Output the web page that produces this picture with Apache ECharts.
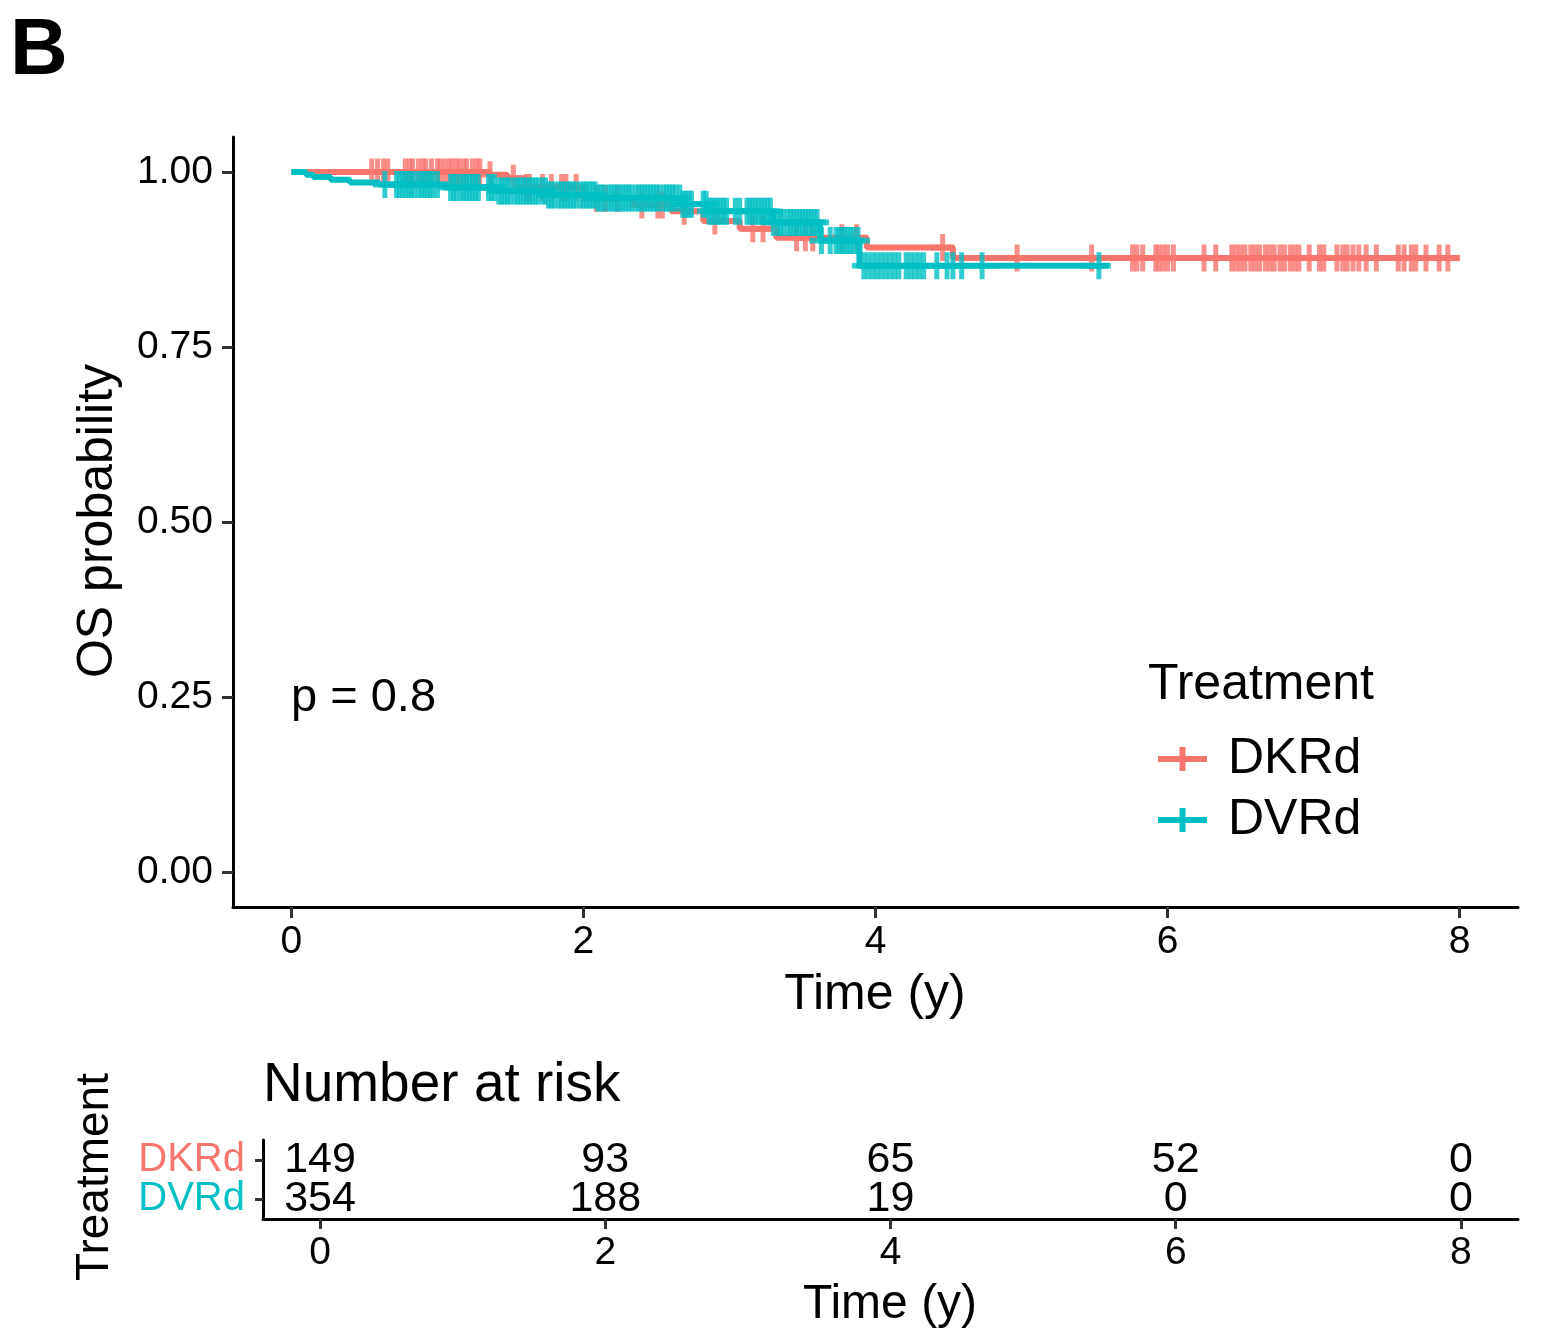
<!DOCTYPE html>
<html><head><meta charset="utf-8">
<script src="https://cdn.jsdelivr.net/npm/echarts@6/dist/echarts.min.js"></script>
<style>html,body{margin:0;padding:0;background:#fff}#c{width:1563px;height:1332px}</style>
</head><body><div id="c"></div>
<script>
const groups = ['DKRd', 'DVRd'];
const colors = ['#F8766D', '#00BFC4'];

// Kaplan-Meier step data (time of drop, new survival level)
const dkrdTimes = [0, 1.35, 1.48, 1.6, 2.0, 2.35, 2.6, 2.82, 3.07, 3.32, 3.94, 4.53, 8.0];
const dkrdSurv  = [1.000, 0.996, 0.991, 0.978, 0.962, 0.953, 0.944, 0.930, 0.919, 0.906, 0.892, 0.877, 0.877];
const dvrdTimes = [0, 0.1, 0.15, 0.27, 0.4, 0.6, 1.07, 1.4, 1.75, 2.1, 2.67, 2.85, 3.3, 3.62, 3.89, 5.6];
const dvrdSurv  = [1.000, 0.996, 0.993, 0.989, 0.985, 0.982, 0.978, 0.973, 0.967, 0.963, 0.954, 0.944, 0.928, 0.902, 0.866, 0.866];

// censoring times
const dkrdCensor = [0.55, 0.59, 0.63, 0.66, 0.78, 0.81, 0.83, 0.87, 0.9, 0.92, 0.96, 1.0, 1.02, 1.05, 1.08, 1.1, 1.13,
  1.15, 1.18, 1.2, 1.24, 1.27, 1.29, 1.36, 1.52,
  1.61, 1.63, 1.72, 1.78, 1.85, 1.88, 1.95, 2.09, 2.15, 2.23, 2.40, 2.51, 2.54, 2.69, 2.9, 3.16, 3.23, 3.46, 3.52, 3.57,
  3.77, 3.87, 4.46, 4.97, 5.48, 5.76, 5.79, 5.83, 5.92, 5.94, 5.97, 6.0, 6.04, 6.25, 6.33, 6.44, 6.47, 6.5, 6.53, 6.57,
  6.6, 6.63, 6.67, 6.7, 6.73, 6.77, 6.8, 6.84, 6.87, 6.9, 6.97, 7.04, 7.07, 7.16, 7.2, 7.23, 7.27, 7.31, 7.36, 7.43,
  7.58, 7.62, 7.67, 7.7, 7.77, 7.86, 7.92];
const dvrdCensor = [0.64, 0.72, 0.74, 0.76, 0.78, 0.8, 0.82, 0.84, 0.87, 0.89, 0.91, 0.93, 0.95, 0.97, 1.0, 1.09, 1.11,
  1.13, 1.16, 1.18, 1.2, 1.22, 1.24, 1.26, 1.28, 1.35, 1.37, 1.39, 1.42, 1.44, 1.46, 1.48, 1.5, 1.53, 1.55, 1.57, 1.59,
  1.61, 1.63, 1.65, 1.67, 1.69, 1.72, 1.74, 1.76, 1.78, 1.8, 1.83, 1.85, 1.87, 1.89, 1.91, 1.93, 1.95, 1.98, 2.0, 2.02,
  2.04, 2.06, 2.08, 2.1, 2.12, 2.14, 2.17, 2.19, 2.21, 2.23, 2.25, 2.27, 2.29, 2.31, 2.33, 2.36, 2.38, 2.4, 2.42, 2.44,
  2.46, 2.48, 2.5, 2.52, 2.55, 2.57, 2.59, 2.61, 2.63, 2.66, 2.68, 2.7, 2.72, 2.74, 2.82, 2.84, 2.86, 2.88, 2.9, 2.92,
  2.94, 2.96, 2.98, 3.04, 3.07, 3.12, 3.14, 3.16, 3.18, 3.2, 3.22, 3.24, 3.26, 3.28, 3.3, 3.33, 3.35, 3.37, 3.4, 3.42,
  3.44, 3.46, 3.48, 3.5, 3.52, 3.54, 3.56, 3.58, 3.6, 3.63, 3.69, 3.73, 3.75, 3.77, 3.79, 3.81, 3.83, 3.85, 3.88, 3.92,
  3.95, 3.98, 4.01, 4.04, 4.07, 4.1, 4.13, 4.16, 4.21, 4.24, 4.27, 4.3, 4.33, 4.42, 4.49, 4.53, 4.59, 4.73, 5.53];

const xTicks = [0, 2, 4, 6, 8];
const yTicks = [0, 0.25, 0.5, 0.75, 1];
const riskTimes = [0, 2, 4, 6, 8];
const dkrdRisk = [149, 93, 65, 52, 0];
const dvrdRisk = [354, 188, 19, 0, 0];
const pText = 'p = 0.8';

const FONT = '"Liberation Sans", Arial, Helvetica, sans-serif';
const plusPath = 'path://M9.5,0 H14.5 V9.5 H24 V14.5 H14.5 V24 H9.5 V14.5 H0 V9.5 H9.5 Z';
const legendIcon = 'path://M0,9 H21.5 V0 H27.5 V9 H49 V15 H27.5 V24 H21.5 V15 H0 Z';

function stepData(times, surv) { return times.map((t, i) => [t, surv[i]]); }
function survAt(times, surv, t) {
  let v = surv[0];
  for (let i = 0; i < times.length; i++) { if (times[i] <= t) v = surv[i]; }
  return v;
}
function censorData(c, times, surv) { return c.map(t => [t, survAt(times, surv, t)]); }

const chart = echarts.init(document.getElementById('c'), null, { renderer: 'canvas' });

const axisLineStyle = { color: '#000', width: 3 };
const tickStyle = { color: '#333', width: 3 };

chart.setOption({
  animation: false,
  backgroundColor: '#fff',
  grid: [
    { left: 233, top: 137, width: 1285, height: 770 },
    { left: 263, top: 1140, width: 1255, height: 79 }
  ],
  xAxis: [
    { type: 'value', gridIndex: 0, min: -0.4, max: 8.4,
      axisLine: { show: true, onZero: false, lineStyle: axisLineStyle },
      axisTick: { show: true, length: 11, lineStyle: tickStyle, customValues: xTicks },
      axisLabel: { customValues: xTicks, fontSize: 39, color: '#000', fontFamily: FONT, margin: 16 },
      splitLine: { show: false } },
    { type: 'value', gridIndex: 1, min: -0.4, max: 8.4,
      axisLine: { show: true, onZero: false, lineStyle: axisLineStyle },
      axisTick: { show: true, length: 10, lineStyle: tickStyle, customValues: riskTimes },
      axisLabel: { customValues: riskTimes, fontSize: 39, color: '#000', fontFamily: FONT, margin: 15 },
      splitLine: { show: false } }
  ],
  yAxis: [
    { type: 'value', gridIndex: 0, min: -0.05, max: 1.05,
      axisLine: { show: true, onZero: false, lineStyle: axisLineStyle },
      axisTick: { show: true, length: 11, lineStyle: tickStyle, customValues: yTicks },
      axisLabel: { customValues: yTicks, formatter: v => v.toFixed(2), fontSize: 39, color: '#000', fontFamily: FONT, margin: 20 },
      splitLine: { show: false } },
    { type: 'category', gridIndex: 1, data: [groups[1], groups[0]], boundaryGap: true,
      axisLine: { show: true, onZero: false, lineStyle: axisLineStyle },
      axisTick: { show: true, length: 8, alignWithLabel: true, interval: 0, lineStyle: tickStyle },
      axisLabel: { interval: 0, fontSize: 40, fontFamily: FONT, margin: 18,
        color: v => v === groups[0] ? colors[0] : colors[1] },
      splitLine: { show: false } }
  ],
  legend: {
    data: groups.map(g => ({ name: g, icon: legendIcon })),
    orient: 'vertical', left: 1153, top: 729,
    itemWidth: 49, itemHeight: 24, itemGap: 11,
    textStyle: { fontSize: 50, color: '#000', fontFamily: FONT, padding: [0, 0, 0, 16] },
    selectedMode: false
  },
  series: [
    { name: groups[0], type: 'line', step: 'end', xAxisIndex: 0, yAxisIndex: 0,
      data: stepData(dkrdTimes, dkrdSurv), showSymbol: false, symbol: 'none',
      lineStyle: { color: colors[0], width: 6 }, itemStyle: { color: colors[0] }, z: 2 },
    { name: groups[0] + ' censor', type: 'scatter', xAxisIndex: 0, yAxisIndex: 0,
      data: censorData(dkrdCensor, dkrdTimes, dkrdSurv), symbol: plusPath, symbolSize: [24, 27],
      itemStyle: { color: colors[0] }, z: 3 },
    { name: groups[1], type: 'line', step: 'end', xAxisIndex: 0, yAxisIndex: 0,
      data: stepData(dvrdTimes, dvrdSurv), showSymbol: false, symbol: 'none',
      lineStyle: { color: colors[1], width: 6 }, itemStyle: { color: colors[1] }, z: 4 },
    { name: groups[1] + ' censor', type: 'scatter', xAxisIndex: 0, yAxisIndex: 0,
      data: censorData(dvrdCensor, dvrdTimes, dvrdSurv), symbol: plusPath, symbolSize: [24, 27],
      itemStyle: { color: colors[1] }, z: 5 },
    { name: 'risk', type: 'scatter', xAxisIndex: 1, yAxisIndex: 1,
      data: riskTimes.map((t, i) => [t, groups[0], dkrdRisk[i]]).concat(riskTimes.map((t, i) => [t, groups[1], dvrdRisk[i]])),
      symbolSize: 0, itemStyle: { color: '#000', opacity: 1 },
      label: { show: true, position: 'inside', formatter: p => String(p.value[2]), fontSize: 43, color: '#000',
        opacity: 1, textBorderWidth: 0, fontFamily: FONT } }
  ],
  graphic: [
    { type: 'text', left: 10, top: 12, style: { text: 'B', fontSize: 80, fontWeight: 'bold', fontFamily: FONT, fill: '#000' } },
    { type: 'text', x: 875, y: 995, style: { text: 'Time (y)', fontSize: 50, fontFamily: FONT, fill: '#000', textAlign: 'center', textVerticalAlign: 'middle' } },
    { type: 'text', x: 98, y: 521, rotation: Math.PI / 2, style: { text: 'OS probability', fontSize: 50, fontFamily: FONT, fill: '#000', textAlign: 'center', textVerticalAlign: 'middle' } },
    { type: 'text', x: 291, y: 698, style: { text: pText, fontSize: 47, fontFamily: FONT, fill: '#000', textAlign: 'left', textVerticalAlign: 'middle' } },
    { type: 'text', x: 1148, y: 685, style: { text: 'Treatment', fontSize: 50, fontFamily: FONT, fill: '#000', textAlign: 'left', textVerticalAlign: 'middle' } },
    { type: 'text', x: 263, y: 1086, style: { text: 'Number at risk', fontSize: 55, fontFamily: FONT, fill: '#000', textAlign: 'left', textVerticalAlign: 'middle' } },
    { type: 'text', x: 890, y: 1305, style: { text: 'Time (y)', fontSize: 48, fontFamily: FONT, fill: '#000', textAlign: 'center', textVerticalAlign: 'middle' } },
    { type: 'text', x: 95, y: 1177, rotation: Math.PI / 2, style: { text: 'Treatment', fontSize: 46, fontFamily: FONT, fill: '#000', textAlign: 'center', textVerticalAlign: 'middle' } }
  ]
});
</script>
</body></html>
